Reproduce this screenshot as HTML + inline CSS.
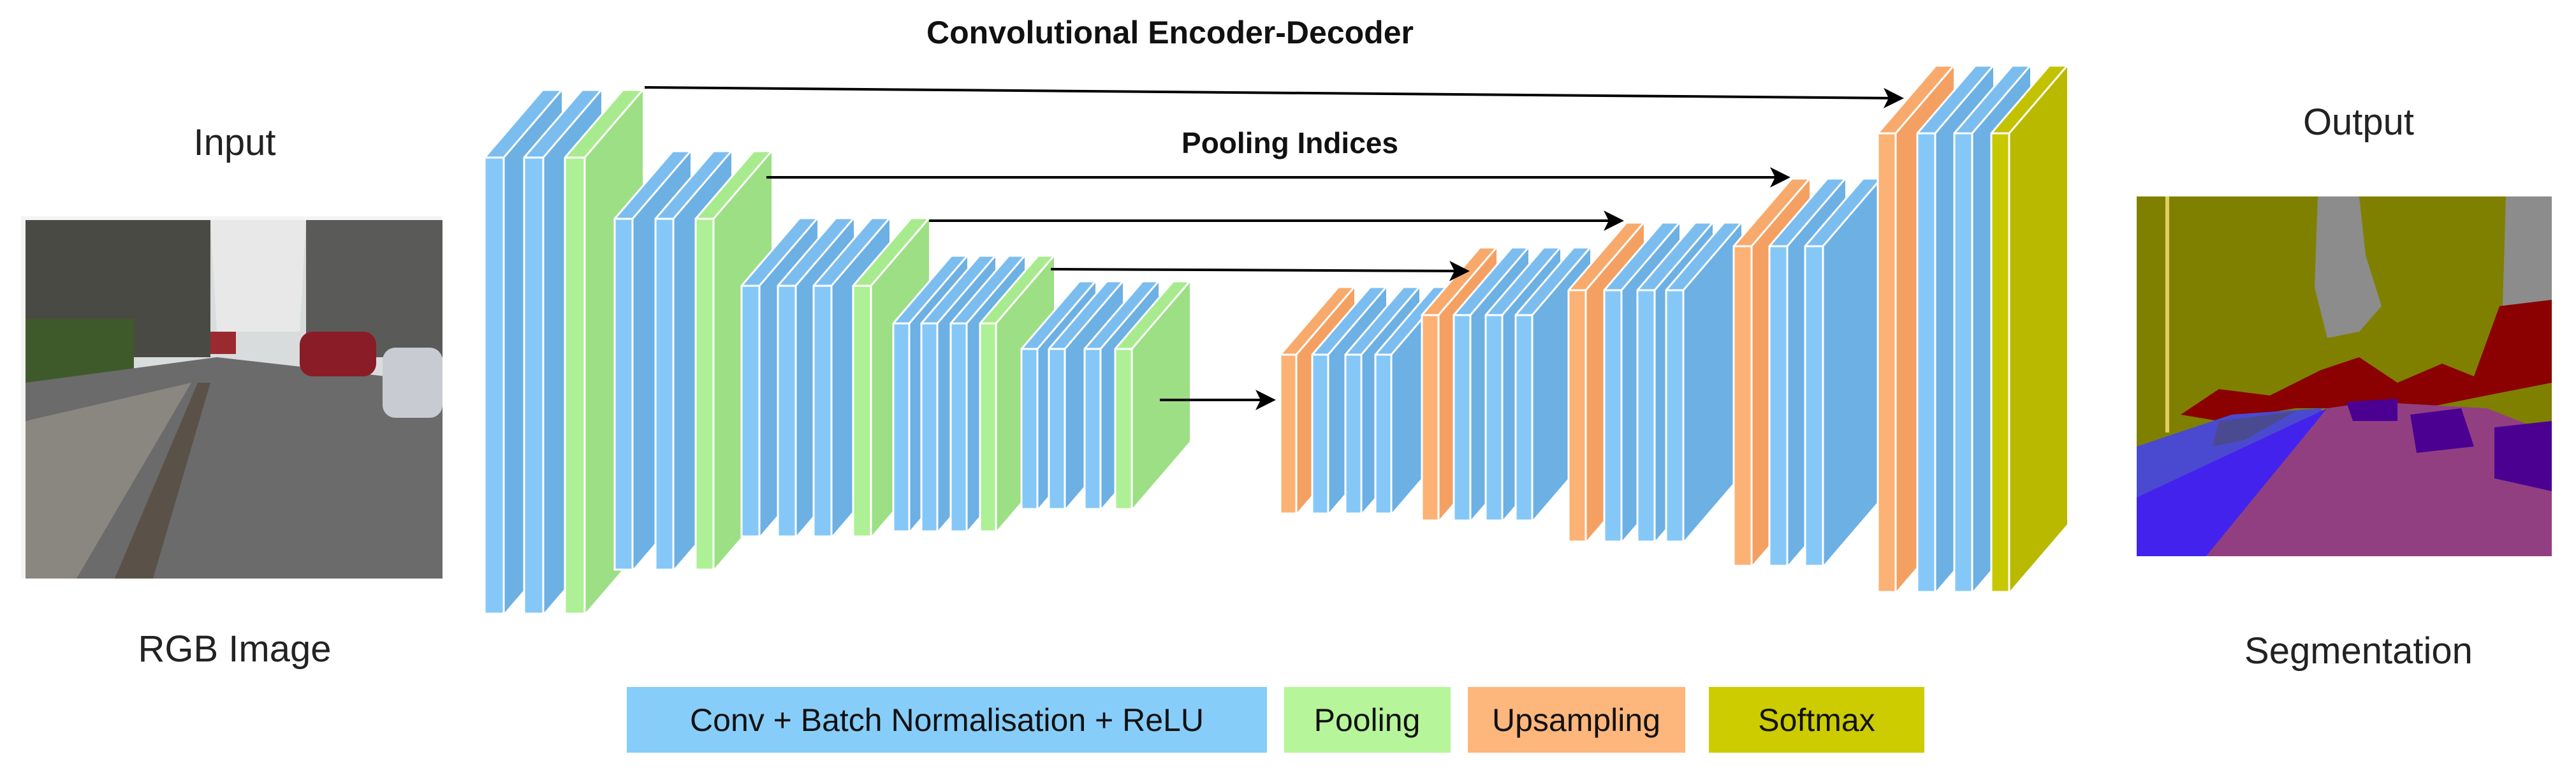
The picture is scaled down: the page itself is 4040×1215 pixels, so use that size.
<!DOCTYPE html>
<html><head><meta charset="utf-8"><style>
html,body{margin:0;padding:0;background:#fff;}
svg{display:block;}
text{font-family:"Liberation Sans",Arial,sans-serif;}
</style></head><body>
<svg id="s" width="4040" height="1215" viewBox="0 0 4040 1215" xmlns="http://www.w3.org/2000/svg">
<defs>
<marker id="ah" markerWidth="8" markerHeight="8" refX="7" refY="4" orient="auto" markerUnits="strokeWidth">
<path d="M0,0 L8,4 L0,8 L2,4 z" fill="#000"/></marker>
</defs>
<rect width="4040" height="1215" fill="#fff"/>
<text x="1835" y="68" font-size="50" font-weight="bold" text-anchor="middle" fill="#111">Convolutional Encoder-Decoder</text>
<text x="2023" y="240" font-size="46" font-weight="bold" text-anchor="middle" fill="#111">Pooling Indices</text>
<text x="368" y="243" font-size="58" text-anchor="middle" fill="#222">Input</text>
<text x="368" y="1037" font-size="58" text-anchor="middle" fill="#222">RGB Image</text>
<text x="3699" y="211" font-size="58" text-anchor="middle" fill="#222">Output</text>
<text x="3699" y="1040" font-size="58" text-anchor="middle" fill="#222">Segmentation</text>

<!-- input photo -->
<g>
<rect x="33" y="339" width="661" height="568" fill="#f4f4f4"/>
<rect x="40" y="345" width="654" height="300" fill="#d9dcdc"/>
<polygon points="40,345 330,345 330,560 40,560" fill="#4a4a45"/>
<polygon points="480,345 694,345 694,560 480,560" fill="#5a5a58"/>
<polygon points="330,345 480,345 470,520 340,520" fill="#e8e8e8"/>
<rect x="40" y="500" width="170" height="170" fill="#3f5a2a"/>
<polygon points="40,600 340,560 694,600 694,907 40,907" fill="#6b6b6b"/>
<polygon points="40,660 300,600 120,907 40,907" fill="#8a8680"/>
<polygon points="180,907 310,600 330,600 240,907" fill="#5a5248"/>
<rect x="470" y="520" width="120" height="70" rx="20" fill="#8a1c28"/>
<rect x="600" y="545" width="94" height="110" rx="20" fill="#c8ccd2"/>
<rect x="330" y="520" width="40" height="35" fill="#9a2a30"/>
</g>

<!-- segmentation -->
<g>
<rect x="3351" y="308" width="651" height="564" fill="#808000"/>
<polygon points="3635,308 3700,308 3710,400 3735,480 3700,520 3650,530 3630,450" fill="#8c8c8c"/>
<polygon points="3930,308 4002,308 4002,470 3925,480" fill="#8c8c8c"/>
<rect x="3396" y="308" width="6" height="370" fill="#e0d060"/>
<polygon points="3420,650 3480,610 3560,620 3640,580 3700,560 3760,600 3830,570 3880,590 3920,480 4002,470 4002,600 3900,620 3800,640 3600,640 3480,660" fill="#8b0000"/>
<polygon points="3351,700 3500,650 3640,640 3660,680 3450,760 3351,800" fill="#4a4ad0"/>
<polygon points="3480,660 3600,645 3520,690 3470,700" fill="#4a4a90"/>
<polygon points="3351,872 3351,780 3650,640 3460,872" fill="#4422ee"/>
<polygon points="3460,872 3650,640 3720,630 3900,640 4002,680 4002,872" fill="#923f82"/>
<polygon points="3680,630 3760,625 3760,660 3690,660" fill="#4b0092"/>
<polygon points="3780,650 3860,640 3880,700 3790,710" fill="#4b0092"/>
<polygon points="3912,670 4002,660 4002,770 3912,750" fill="#4b0092"/>
</g>

<g id="net"></g>
<g id="arr" stroke="#000" stroke-width="4" fill="none">
<line x1="1011" y1="137" x2="2982" y2="154" marker-end="url(#ah)"/>
<line x1="1202" y1="278" x2="2804" y2="278" marker-end="url(#ah)"/>
<line x1="1457" y1="346" x2="2543" y2="346" marker-end="url(#ah)"/>
<line x1="1648" y1="422" x2="2301" y2="425" marker-end="url(#ah)"/>
<line x1="1819" y1="627" x2="1997" y2="627" marker-end="url(#ah)"/>
</g>

<!-- legend -->
<rect x="983" y="1077" width="1004" height="103" fill="#87cdf9"/>
<text x="1485" y="1146" font-size="50" text-anchor="middle" fill="#111">Conv + Batch Normalisation + ReLU</text>
<rect x="2014" y="1077" width="261" height="103" fill="#b7f59a"/>
<text x="2144" y="1146" font-size="50" text-anchor="middle" fill="#111">Pooling</text>
<rect x="2302" y="1077" width="341" height="103" fill="#fdb67c"/>
<text x="2472" y="1146" font-size="50" text-anchor="middle" fill="#111">Upsampling</text>
<rect x="2680" y="1077" width="338" height="103" fill="#cccc00"/>
<text x="2849" y="1146" font-size="50" text-anchor="middle" fill="#111">Softmax</text>
</svg>
<script>
var C={b:["#85c8f7","#6cb0e4","#7cbdf0"],g:["#aef095","#9ddf84","#a8eb8e"],o:["#fbb274","#f4a062","#f8aa6c"],y:["#c8c800","#b9b900","#c2c200"]};
var dx=91,dy=-106,net=document.getElementById('net'),NS="http://www.w3.org/2000/svg";
function P(pts,f,st){var p=document.createElementNS(NS,'polygon');p.setAttribute('points',pts);p.setAttribute('fill',f);if(st){p.setAttribute('stroke','#fff');p.setAttribute('stroke-width','3');p.setAttribute('stroke-linejoin','round');}net.appendChild(p);}
function slab(x,w,t,b,c){var k=C[c];
P([x+w,t,x+w+dx,t+dy,x+w+dx,b+dy,x+w,b].join(' '),k[1],false);
P([x,t,x+dx,t+dy,x+w+dx,t+dy,x+w,t].join(' '),k[2],true);
P([x,t,x+w,t,x+w,b,x,b].join(' '),k[0],true);}
var L=[
[760,30,247,962,'b'],[822,30,247,962,'b'],[886,31,247,962,'g'],
[964,28,343,893,'b'],[1028,28,343,893,'b'],[1091,28,343,893,'g'],
[1163,28,448,841,'b'],[1220,28,448,841,'b'],[1276,28,448,841,'b'],[1338,28,448,841,'g'],
[1401,25,507,833,'b'],[1445,25,507,833,'b'],[1491,25,507,833,'b'],[1537,25,507,833,'g'],
[1602,25,547,798,'b'],[1645,25,547,798,'b'],[1701,25,547,798,'b'],[1749,26,547,798,'g'],
[2008,25,556,805,'o'],[2058,25,556,805,'b'],[2110,25,556,805,'b'],[2157,25,556,805,'b'],
[2230,26,494,816,'o'],[2280,26,494,816,'b'],[2330,26,494,816,'b'],[2377,26,494,816,'b'],
[2460,27,455,849,'o'],[2516,27,455,849,'b'],[2568,27,455,849,'b'],[2613,27,455,849,'b'],
[2719,28,386,887,'o'],[2775,28,386,887,'b'],[2831,28,386,887,'b'],
[2945,28,209,928,'o'],[3007,28,209,928,'b'],[3065,28,209,928,'b'],[3123,28,209,928,'y']];
L.forEach(function(a){slab(a[0],a[1],a[2],a[3],a[4]);});
</script>
</body></html>
